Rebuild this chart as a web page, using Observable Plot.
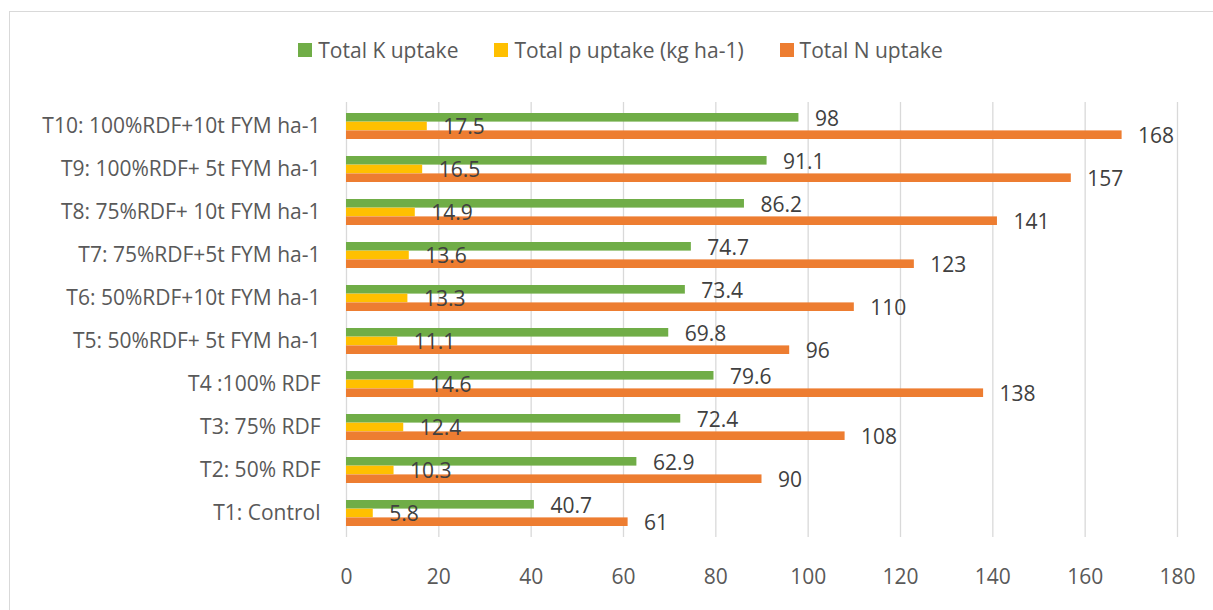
<!DOCTYPE html>
<html><head><meta charset="utf-8">
<script src="https://cdn.jsdelivr.net/npm/d3@7"></script>
<script src="https://cdn.jsdelivr.net/npm/@observablehq/plot@0.6"></script>
<style>
body{margin:0;width:1213px;height:610px;overflow:hidden;background:#fff;position:relative;font-family:"Open Sans",sans-serif;}
#frame{position:absolute;left:9px;top:11px;width:1300px;height:700px;border:1.5px solid #d9d9d9;pointer-events:none;}
#legend{height:80px;padding-top:10px;padding-left:28px;display:flex;justify-content:center;align-items:center;font-size:21px;color:#595959;}
.item{display:flex;align-items:center;margin:0 18px;}
.sw{width:14px;height:14px;margin-right:6px;}
</style></head>
<body>
<div id="frame"></div>
<div id="legend"></div>
<div id="chart"></div>
<script>
const categories = ["T1: Control","T2: 50% RDF","T3: 75% RDF","T4 :100% RDF","T5: 50%RDF+ 5t FYM ha-1","T6: 50%RDF+10t FYM ha-1","T7: 75%RDF+5t FYM ha-1","T8: 75%RDF+ 10t FYM ha-1","T9: 100%RDF+ 5t FYM ha-1","T10: 100%RDF+10t FYM ha-1"];
const kUptake = [40.7,62.9,72.4,79.6,69.8,73.4,74.7,86.2,91.1,98];
const pUptake = [5.8,10.3,12.4,14.6,11.1,13.3,13.6,14.9,16.5,17.5];
const nUptake = [61,90,108,138,96,110,123,141,157,168];
const xTicks = [0,20,40,60,80,100,120,140,160,180];
const seriesNames = ["Total K uptake","Total p uptake (kg ha-1)","Total N uptake"];
const seriesColors = ["#70AD47","#FFC000","#ED7D31"];

const fontFamily = '"Open Sans", sans-serif';
const rows = categories.map((c,i)=>({cat:c,k:kUptake[i],p:pUptake[i],n:nUptake[i]}));

// legend
const leg = document.getElementById("legend");
seriesNames.forEach((s,i)=>{
  const it=document.createElement("div");it.className="item";
  it.innerHTML=`<div class="sw" style="background:${seriesColors[i]}"></div><span>${s}</span>`;
  leg.appendChild(it);
});

const W=1213,H=520,mt=12,mb=73,pi=0.4,po=0.2;
const step=(H-mt-mb)/(categories.length-pi+2*po);
const sub=step*(1-pi)/3;
const keys=["k","p","n"];
const bars=keys.map((k,j)=>Plot.barX(rows,{y:"cat",x:k,fill:seriesColors[j],insetTop:sub*j,insetBottom:sub*(2-j)}));
const labels=keys.map((k,j)=>Plot.text(rows,{y:"cat",x:k,text:d=>String(d[k]),dx:16,dy:sub*(j-1)+1,textAnchor:"start",fill:"#404040",fontSize:21}));

const chart=Plot.plot({
  width:W,height:H,marginLeft:346,marginRight:36,marginTop:mt,marginBottom:mb,
  style:{fontFamily,fontSize:"21px",color:"#595959",background:"transparent",overflow:"visible"},
  x:{domain:[0,180],ticks:xTicks,tickSize:0,tickPadding:32,label:null},
  y:{domain:categories.slice().reverse(),paddingInner:pi,paddingOuter:po,tickSize:0,tickPadding:26,label:null},
  marks:[
    Plot.ruleX(xTicks,{stroke:"#d9d9d9",strokeWidth:1.3}),
    ...bars,
    ...labels
  ]
});
document.getElementById("chart").appendChild(chart);
</script>
</body></html>
